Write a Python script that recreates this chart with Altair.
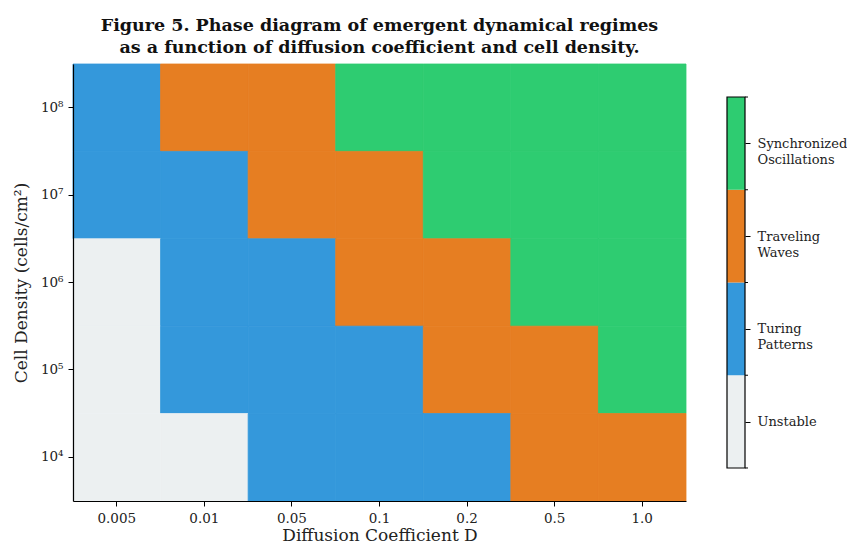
import altair as alt
import pandas as pd

D_values = ["0.005", "0.01", "0.05", "0.1", "0.2", "0.5", "1.0"]
densities = ["10⁸", "10⁷", "10⁶", "10⁵", "10⁴"]
regime_names = ["Unstable", "Turing Patterns", "Traveling Waves", "Synchronized Oscillations"]
regime_colors = ["#ecf0f1", "#3498db", "#e67e22", "#2ecc71"]

# regime index per row (top row = 10^8), per diffusion coefficient
row_1e8 = [1, 2, 2, 3, 3, 3, 3]
row_1e7 = [1, 1, 2, 2, 3, 3, 3]
row_1e6 = [0, 1, 1, 2, 2, 3, 3]
row_1e5 = [0, 1, 1, 1, 2, 2, 3]
row_1e4 = [0, 0, 1, 1, 1, 2, 2]
grid = [row_1e8, row_1e7, row_1e6, row_1e5, row_1e4]

rows = []
for dens, r in zip(densities, grid):
    for d, k in zip(D_values, r):
        rows.append({"D": d, "density": dens, "regime": regime_names[k]})
df = pd.DataFrame(rows)

FONT = "DejaVu Serif"
LBL = 13.5
TTL = 17
PLOT_H = 437

color_scale = alt.Scale(domain=regime_names, range=regime_colors)
no_view = alt.ViewBackground(stroke="transparent", strokeWidth=0)

heat = alt.Chart(df).mark_rect(strokeWidth=0.8).encode(
    x=alt.X("D:N", sort=D_values, title="Diffusion Coefficient D",
            scale=alt.Scale(paddingInner=0, paddingOuter=0),
            axis=alt.Axis(labelAngle=0, labelFont=FONT, labelFontSize=LBL, labelColor="#222",
                          titleFont=FONT, titleFontSize=TTL, titleFontWeight="normal", titleColor="#222",
                          tickColor="black", domainColor="black", tickSize=5, labelPadding=5,
                          titlePadding=3, domainWidth=1.2, grid=False)),
    y=alt.Y("density:N", sort=densities, title="Cell Density (cells/cm²)",
            scale=alt.Scale(paddingInner=0, paddingOuter=0),
            axis=alt.Axis(labelFont=FONT, labelFontSize=LBL, labelColor="#222",
                          titleFont=FONT, titleFontSize=TTL, titleFontWeight="normal", titleColor="#222",
                          tickColor="black", domainColor="black", tickSize=5, labelPadding=5,
                          titlePadding=10, domainWidth=1.2, grid=False)),
    color=alt.Color("regime:N", scale=color_scale, legend=None),
    stroke=alt.Color("regime:N", scale=color_scale, legend=None),
).properties(
    width=613, height=PLOT_H, view=no_view,
    title=alt.TitleParams(
        text=["Figure 5. Phase diagram of emergent dynamical regimes",
              "as a function of diffusion coefficient and cell density."],
        font=FONT, fontSize=17.5, fontWeight="bold", color="#111", anchor="middle", offset=7,
        lineHeight=22),
)

# colorbar
cb_df = pd.DataFrame({
    "regime": regime_names,
    "start": [0, 1, 2, 3],
    "end": [1, 2, 3, 4],
})
cb_scale = alt.Scale(domain=[-0.356, 4.356], nice=False, zero=False)
label_expr = ("datum.value < 1 ? 'Unstable' : datum.value < 2 ? ['Turing','Patterns'] : "
              "datum.value < 3 ? ['Traveling','Waves'] : ['Synchronized','Oscillations']")
cb_axis = alt.Axis(orient="right", values=[0.5, 1.5, 2.5, 3.5], labelExpr=label_expr,
                   labelFont=FONT, labelFontSize=13, labelColor="#222", labelLineHeight=16,
                   tickColor="black", tickSize=5, labelPadding=7, domain=False, grid=False,
                   title=None)

cb_rect = alt.Chart(cb_df).mark_rect().encode(
    y=alt.Y("start:Q", scale=cb_scale, axis=cb_axis),
    y2="end:Q",
    x=alt.value(0), x2=alt.value(18),
    color=alt.Color("regime:N", scale=color_scale, legend=None),
)
cb_border = alt.Chart(pd.DataFrame({"start": [0], "end": [4]})).mark_rect(
    fillOpacity=0, stroke="black", strokeWidth=1.2).encode(
    y=alt.Y("start:Q", scale=cb_scale, axis=cb_axis), y2="end:Q",
    x=alt.value(0), x2=alt.value(18))
cb_minor = alt.Chart(pd.DataFrame({"start": [0, 1, 2, 3, 4]})).mark_rule(color="black").encode(
    y=alt.Y("start:Q", scale=cb_scale, axis=cb_axis), x=alt.value(18), x2=alt.value(21))

colorbar = alt.layer(cb_rect, cb_border, cb_minor).properties(
    width=18, height=PLOT_H, view=no_view)

chart = alt.hconcat(heat, colorbar, spacing=39).configure_view(
    stroke="transparent", strokeWidth=0).configure_axis(grid=False).configure(
    background="white", padding={"left": 4, "top": 9, "right": 0, "bottom": 0})

chart.save("out.html", embed_options={"renderer": "svg", "actions": False})
